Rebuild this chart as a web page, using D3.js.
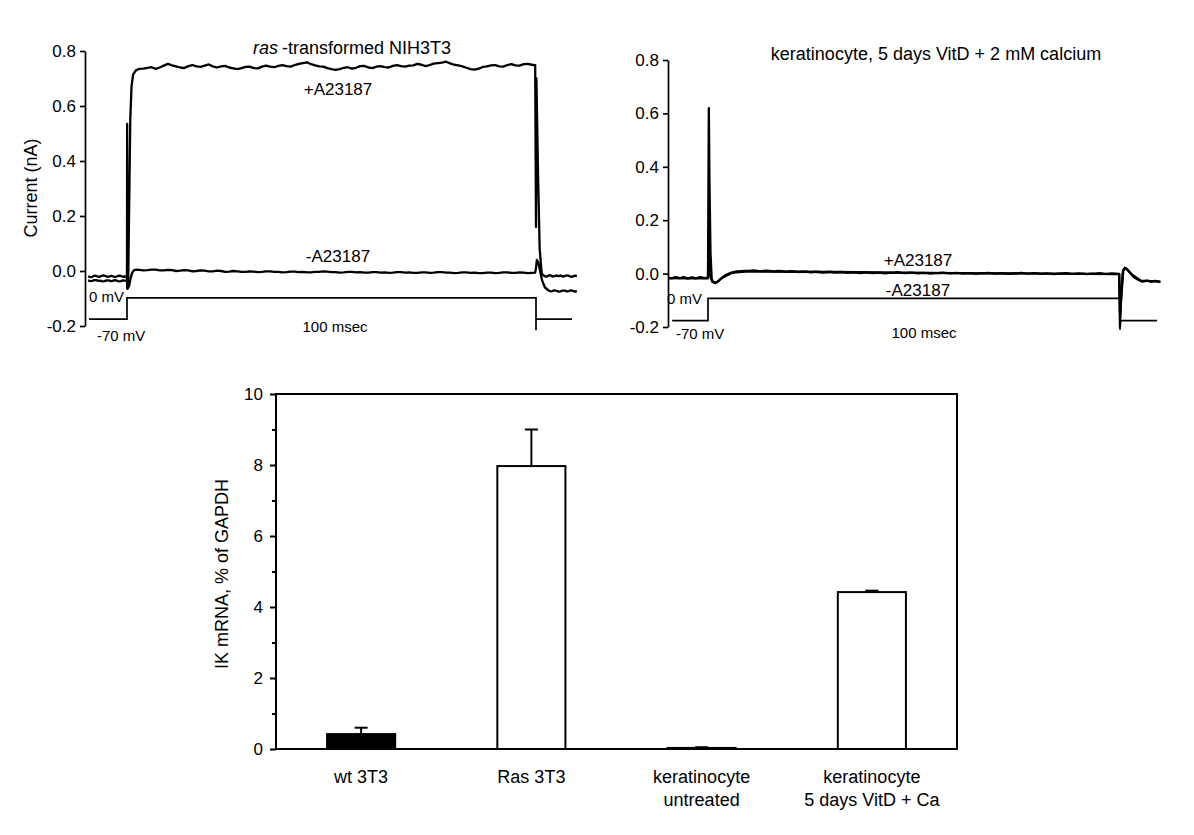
<!DOCTYPE html>
<html>
<head>
<meta charset="utf-8">
<script src="https://cdn.jsdelivr.net/npm/d3@7"></script>
<style>
  body { margin: 0; background: #fff; }
  svg { font-family: "Liberation Sans", Arial, sans-serif; }
</style>
</head>
<body>
<svg id="fig" width="1194" height="835"></svg>
<script>
const FONT = '"Liberation Sans", Arial, sans-serif';

// ---- current traces (time in ms, current in nA) ----
const currentTicks = [-0.2, 0, 0.2, 0.4, 0.6, 0.8];

// ras-transformed NIH3T3, +A23187
const rasPlusPre = [[-9.5, -0.019], [-9, -0.022], [-8.5, -0.021], [-8, -0.017], [-7.5, -0.018], [-7, -0.021],
  [-6.5, -0.020], [-6, -0.016], [-5.5, -0.017], [-5, -0.020], [-4.5, -0.021], [-4, -0.018],
  [-3.5, -0.019], [-3, -0.022], [-2.5, -0.020], [-2, -0.017], [-1.5, -0.018], [-1, -0.021],
  [-0.5, -0.020], [-0.05, -0.021]];
const rasPlusRise = [[0, -0.03], [0.03, 0.535], [0.12, -0.06], [0.3, -0.03], [0.5, 0.2], [0.8, 0.55],
  [1.1, 0.67], [1.5, 0.715], [2.2, 0.73], [3, 0.735]];
// plateau, one value per ms from t = 4
const rasPlusPlateau = [0.736, 0.739, 0.741, 0.735, 0.740, 0.747, 0.753, 0.748, 0.744, 0.740,
  0.738, 0.745, 0.749, 0.744, 0.742, 0.747, 0.751, 0.744, 0.740, 0.744,
  0.746, 0.740, 0.737, 0.734, 0.738, 0.742, 0.743, 0.738, 0.737, 0.743,
  0.747, 0.743, 0.741, 0.746, 0.749, 0.745, 0.743, 0.749, 0.753, 0.756,
  0.759, 0.752, 0.748, 0.744, 0.743, 0.738, 0.734, 0.731, 0.734, 0.739,
  0.741, 0.736, 0.739, 0.745, 0.746, 0.740, 0.738, 0.743, 0.745, 0.741,
  0.740, 0.746, 0.749, 0.745, 0.743, 0.747, 0.748, 0.753, 0.750, 0.745,
  0.749, 0.754, 0.756, 0.758, 0.761, 0.755, 0.750, 0.748, 0.744, 0.739,
  0.734, 0.732, 0.736, 0.742, 0.744, 0.748, 0.749, 0.744, 0.743, 0.749,
  0.752, 0.748, 0.747, 0.752, 0.753, 0.750];
const rasPlusFall = [[99.8, 0.749], [100, 0.16], [100.1, 0.70], [100.5, 0.35], [100.9, 0.08],
  [101.4, -0.01], [102, -0.018], [102.5, -0.021], [103, -0.017], [103.5, -0.015], [104, -0.020],
  [104.5, -0.019], [105, -0.016], [105.5, -0.019], [106, -0.016], [106.5, -0.020], [107, -0.019],
  [107.5, -0.016], [108, -0.017], [108.5, -0.021], [109, -0.020], [109.5, -0.017], [110, -0.018]];

// ras-transformed NIH3T3, -A23187
const rasMinusPre = [[-9.5, -0.034], [-9, -0.037], [-8.5, -0.036], [-8, -0.033], [-7.5, -0.033], [-7, -0.036],
  [-6.5, -0.035], [-6, -0.038], [-5.5, -0.037], [-5, -0.034], [-4.5, -0.034], [-4, -0.037],
  [-3.5, -0.036], [-3, -0.033], [-2.5, -0.035], [-2, -0.038], [-1.5, -0.037], [-1, -0.034],
  [-0.5, -0.035], [0, -0.036]];
const rasMinusRise = [[0.1, -0.065], [0.5, -0.055], [0.9, -0.025], [1.3, -0.005], [1.8, 0.004], [2.5, 0.005]];
// plateau, one value per ms from t = 3
const rasMinusPlateau = [0.004, 0.002, 0.003, 0.005, 0.005, 0.002, 0.002, 0.004, 0.003, 0.000,
  0.001, 0.003, 0.002, -0.001, 0.000, 0.002, 0.001, -0.001, -0.001, 0.001,
  0.000, -0.003, -0.002, 0.000, -0.001, -0.003, -0.003, -0.001, -0.002, -0.004,
  -0.003, -0.001, -0.001, -0.003, -0.003, -0.005, -0.004, -0.002, -0.002, -0.004,
  -0.003, -0.005, -0.005, -0.003, -0.003, -0.001, -0.002, -0.004, -0.004, -0.006,
  -0.005, -0.003, -0.003, -0.005, -0.004, -0.006, -0.006, -0.004, -0.004, -0.006,
  -0.005, -0.007, -0.006, -0.004, -0.004, -0.006, -0.005, -0.007, -0.007, -0.005,
  -0.005, -0.007, -0.006, -0.004, -0.004, -0.006, -0.006, -0.008, -0.007, -0.005,
  -0.005, -0.007, -0.006, -0.008, -0.008, -0.006, -0.006, -0.008, -0.007, -0.005,
  -0.005, -0.007, -0.007, -0.005, -0.006, -0.008, -0.007];
const rasMinusFall = [[99.8, -0.006], [100, 0.01], [100.2, 0.04], [100.6, 0.03], [101, 0.0],
  [101.5, -0.035], [102.2, -0.06], [103, -0.07], [103.5, -0.074], [104, -0.073], [104.5, -0.070],
  [105, -0.072], [105.5, -0.075], [106, -0.074], [106.5, -0.071], [107, -0.071], [107.5, -0.074],
  [108, -0.073], [108.5, -0.070], [109, -0.072], [109.5, -0.075], [110, -0.073]];

// keratinocyte, 5 days VitD + 2 mM calcium, +A23187
const kerPlusPre = [[-9.6, -0.015], [-9, -0.018], [-8.5, -0.017], [-8, -0.013], [-7.5, -0.014], [-7, -0.017],
  [-6.5, -0.016], [-6, -0.013], [-5.5, -0.015], [-5, -0.018], [-4.5, -0.017], [-4, -0.014],
  [-3.5, -0.015], [-3, -0.018], [-2.5, -0.016], [-2, -0.013], [-1.5, -0.014], [-1, -0.017],
  [-0.5, -0.016], [0, -0.016]];
const kerPlusSpike = [[0.1, 0.3], [0.2, 0.62], [0.35, 0.35], [0.6, 0.08], [0.9, -0.02], [1.3, -0.033],
  [1.8, -0.036], [2.4, -0.03], [3.2, -0.018], [4.2, -0.006], [5.5, 0.003], [7, 0.008], [9, 0.010]];
// plateau, one value per ms from t = 10
const kerPlusPlateau = [0.010, 0.012, 0.010, 0.009, 0.011, 0.010, 0.008, 0.010, 0.009, 0.007,
  0.009, 0.008, 0.006, 0.008, 0.007, 0.005, 0.007, 0.006, 0.004, 0.006,
  0.006, 0.004, 0.006, 0.005, 0.003, 0.005, 0.004, 0.002, 0.004, 0.004,
  0.002, 0.004, 0.003, 0.001, 0.003, 0.003, 0.005, 0.003, 0.002, 0.004,
  0.003, 0.001, 0.003, 0.002, 0.000, 0.002, 0.002, 0.004, 0.002, 0.001,
  0.003, 0.002, 0.000, 0.002, 0.001, -0.001, 0.001, 0.001, 0.003, 0.001,
  0.000, 0.002, 0.001, -0.001, 0.001, 0.001, 0.003, 0.001, 0.000, 0.002,
  0.001, -0.001, 0.001, 0.000, -0.002, 0.000, 0.001, 0.002, 0.000, -0.001,
  0.001, 0.000, -0.002, 0.000, 0.000, 0.002, 0.000, -0.001, 0.001, 0.000];
const kerPlusEnd = [[99.8, -0.001], [100, -0.2], [100.3, -0.08], [100.7, 0.01], [101.2, 0.022],
  [101.8, 0.015], [102.6, 0.0], [103.5, -0.015], [104.5, -0.024], [105, -0.027], [105.5, -0.030],
  [106, -0.028], [106.5, -0.026], [107, -0.027], [107.5, -0.031], [108, -0.029], [108.5, -0.027],
  [109, -0.028], [109.4, -0.031], [109.8, -0.029]];

// keratinocyte, -A23187 (lies under the +A23187 trace)
const kerMinus = [[-9.6, -0.017], [-5, -0.018], [0, -0.018], [0.15, 0.15], [0.4, 0.0], [1, -0.03],
  [2, -0.034], [3.5, -0.015], [6, 0.004], [10, 0.008], [30, 0.006], [60, 0.002], [99.8, -0.002],
  [100, -0.15], [100.8, 0.012], [101.4, 0.02], [103, -0.005], [105, -0.026], [109.8, -0.03]];

// voltage protocol, drawn on the current axis
const rasProtocol = [[-9.3, -0.175], [0, -0.175], [0, -0.098], [100, -0.098], [100, -0.215]];
const rasProtocolTail = [[100, -0.175], [108.8, -0.175]];
const kerProtocol = [[-8.7, -0.176], [0, -0.176], [0, -0.093], [100, -0.093], [100, -0.21]];
const kerProtocolTail = [[100, -0.176], [109, -0.176]];

// ---- IK mRNA bar chart ----
const categories = ["wt 3T3", "Ras 3T3", "keratinocyte\nuntreated", "keratinocyte\n5 days VitD + Ca"];
const mrnaValues = [0.42, 7.97, 0.03, 4.42];
const mrnaErrors = [0.18, 1.03, 0.02, 0.04];
const mrnaFills = ["#000", "#fff", "#fff", "#fff"];
const mrnaMajorTicks = [0, 2, 4, 6, 8, 10];
const mrnaMinorTicks = [1, 3, 5, 7, 9];

const svg = d3.select("#fig");

function build(pre, mid, plateau, t0, dt, post) {
  return pre.concat(mid, plateau.map((v, i) => [t0 + i * dt, v]), post);
}

function drawTracePanel(p) {
  const x = d3.scaleLinear().domain([0, 100]).range(p.xRange);
  const y = d3.scaleLinear().domain([-0.2, 0.8]).range(p.yRange);
  const g = svg.append("g");

  const axis = d3.axisLeft(y).tickValues(currentTicks).tickSize(5).tickSizeOuter(0)
    .tickPadding(4).tickFormat((d) => d.toFixed(1));
  g.append("g")
    .attr("transform", `translate(${p.axisX},0)`)
    .call(axis)
    .call((a) => a.attr("font-family", FONT).attr("font-size", 17))
    .call((a) => a.selectAll("path, line").attr("stroke", "#000").attr("stroke-width", 1.7));

  const line = d3.line().x((d) => x(d[0])).y((d) => y(d[1]));

  p.protocol.forEach((pts) => {
    g.append("path").datum(pts).attr("d", line)
      .attr("fill", "none").attr("stroke", "#000").attr("stroke-width", 1.7);
  });
  p.traces.forEach((pts) => {
    g.append("path").datum(pts).attr("d", line)
      .attr("fill", "none").attr("stroke", "#000").attr("stroke-width", 2.3)
      .attr("stroke-linejoin", "round");
  });

  p.labels.forEach((l) => {
    g.append("text").attr("x", l.x).attr("y", l.y)
      .attr("text-anchor", l.anchor || "middle")
      .attr("font-size", l.size).text(l.text);
  });
  return g;
}

// left panel
const leftPanel = drawTracePanel({
  xRange: [127, 536], yRange: [326, 51], axisX: 85,
  protocol: [rasProtocol, rasProtocolTail],
  traces: [
    build(rasMinusPre, rasMinusRise, rasMinusPlateau, 3, 1, rasMinusFall),
    build(rasPlusPre, rasPlusRise, rasPlusPlateau, 4, 1, rasPlusFall)
  ],
  labels: [
    { text: "+A23187", x: 338, y: 95, size: 17 },
    { text: "-A23187", x: 338, y: 262, size: 17 },
    { text: "0 mV", x: 89, y: 302, size: 15, anchor: "start" },
    { text: "-70 mV", x: 97, y: 341, size: 15, anchor: "start" },
    { text: "100 msec", x: 335, y: 332, size: 15 }
  ]
});
const leftTitle = leftPanel.append("text").attr("x", 352).attr("y", 54)
  .attr("text-anchor", "middle").attr("font-size", 18);
leftTitle.append("tspan").attr("font-style", "italic").text("ras");
leftTitle.append("tspan").attr("dx", 4).text("-transformed NIH3T3");
leftPanel.append("text")
  .attr("transform", "translate(37,188) rotate(-90)")
  .attr("text-anchor", "middle").attr("font-size", 18).text("Current (nA)");

// right panel
drawTracePanel({
  xRange: [708, 1120], yRange: [327, 60], axisX: 668,
  protocol: [kerProtocol, kerProtocolTail],
  traces: [
    kerMinus,
    build(kerPlusPre, kerPlusSpike, kerPlusPlateau, 10, 1, kerPlusEnd)
  ],
  labels: [
    { text: "keratinocyte, 5 days VitD + 2 mM calcium", x: 936, y: 60, size: 18 },
    { text: "+A23187", x: 918, y: 266, size: 17 },
    { text: "-A23187", x: 918, y: 296, size: 17 },
    { text: "0 mV", x: 667, y: 304, size: 15, anchor: "start" },
    { text: "-70 mV", x: 676, y: 339, size: 15, anchor: "start" },
    { text: "100 msec", x: 924, y: 338, size: 15 }
  ]
});

// bar chart
const frame = { left: 276, right: 957, top: 394, bottom: 749 };
const xBand = d3.scaleBand().domain(categories).range([frame.left, frame.right]).paddingInner(0.6).paddingOuter(0.3);
const yBar = d3.scaleLinear().domain([0, 10]).range([frame.bottom, frame.top]);
const barG = svg.append("g");

barG.append("g").attr("transform", `translate(${frame.left},0)`)
  .call(d3.axisLeft(yBar).tickValues(mrnaMinorTicks).tickSize(4).tickFormat(""))
  .call((a) => a.select(".domain").remove())
  .call((a) => a.selectAll("line").attr("stroke", "#000").attr("stroke-width", 2));
barG.append("g").attr("transform", `translate(${frame.left},0)`)
  .call(d3.axisLeft(yBar).tickValues(mrnaMajorTicks).tickSize(6).tickSizeOuter(0).tickPadding(7))
  .call((a) => a.attr("font-family", FONT).attr("font-size", 17))
  .call((a) => a.select(".domain").remove())
  .call((a) => a.selectAll("line").attr("stroke", "#000").attr("stroke-width", 2));

// error bars (upper only)
const capHalf = 6.5;
barG.selectAll(".err").data(categories).join("g").attr("class", "err")
  .each(function (c, i) {
    const cx = xBand(c) + xBand.bandwidth() / 2;
    const g = d3.select(this);
    g.append("line").attr("x1", cx).attr("x2", cx)
      .attr("y1", yBar(mrnaValues[i])).attr("y2", yBar(mrnaValues[i] + mrnaErrors[i]))
      .attr("stroke", "#000").attr("stroke-width", 2);
    g.append("line").attr("x1", cx - capHalf).attr("x2", cx + capHalf)
      .attr("y1", yBar(mrnaValues[i] + mrnaErrors[i])).attr("y2", yBar(mrnaValues[i] + mrnaErrors[i]))
      .attr("stroke", "#000").attr("stroke-width", 2);
  });

barG.selectAll(".bar").data(categories).join("rect").attr("class", "bar")
  .attr("x", (c) => xBand(c))
  .attr("width", xBand.bandwidth())
  .attr("y", (c, i) => yBar(mrnaValues[i]))
  .attr("height", (c, i) => yBar(0) - yBar(mrnaValues[i]))
  .attr("fill", (c, i) => mrnaFills[i])
  .attr("stroke", "#000").attr("stroke-width", 2);

barG.append("rect")
  .attr("x", frame.left).attr("y", frame.top)
  .attr("width", frame.right - frame.left).attr("height", frame.bottom - frame.top)
  .attr("fill", "none").attr("stroke", "#000").attr("stroke-width", 2);

barG.selectAll(".cat").data(categories).join("text").attr("class", "cat")
  .attr("text-anchor", "middle").attr("font-size", 18)
  .each(function (c) {
    const cx = xBand(c) + xBand.bandwidth() / 2;
    c.split("\n").forEach((part, k) => {
      d3.select(this).append("tspan").attr("x", cx).attr("y", 783 + k * 23).text(part);
    });
  });

barG.append("text")
  .attr("transform", "translate(228,574) rotate(-90)")
  .attr("text-anchor", "middle").attr("font-size", 18).text("IK mRNA, % of GAPDH");
</script>
</body>
</html>
